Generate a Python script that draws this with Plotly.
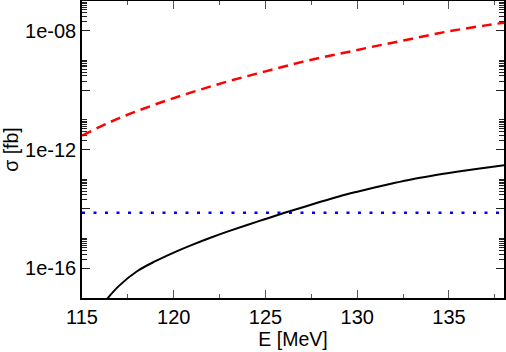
import plotly.graph_objects as go

# energies [MeV] and cross sections [fb]
energy_red = [115, 117, 119, 121, 123, 125, 127, 129, 131, 133, 135, 137, 138]
sigma_red = [2.95e-12, 1.12e-11, 3.31e-11, 8.51e-11, 2.00e-10, 4.27e-10, 8.91e-10,
             1.66e-9, 3.02e-9, 5.37e-9, 9.55e-9, 1.51e-8, 1.86e-8]

energy_black = [116, 117, 118, 119, 120, 121, 122, 123, 124, 125, 126, 127,
                128, 129, 130, 131, 132, 133, 134, 135, 136, 137, 138]
sigma_black = [5.01e-18, 2.51e-17, 7.94e-17, 1.74e-16, 3.39e-16, 6.17e-16, 1.07e-15,
               1.78e-15, 2.88e-15, 4.57e-15, 7.24e-15, 1.12e-14, 1.74e-14, 2.63e-14,
               3.80e-14, 5.37e-14, 7.41e-14, 1.00e-13, 1.29e-13, 1.62e-13, 2.00e-13,
               2.45e-13, 2.95e-13]

energy_blue = [115, 138]
sigma_blue = [7.4e-15, 7.4e-15]

y_tickvals = [1e-16, 1e-14, 1e-12, 1e-10, 1e-08]
y_ticktext = ['1e-16', '', '1e-12', '', '1e-08']
# minor ticks: 2..10 x 10^k in the lower decade of each two-decade step
y_minor = [m * 10.0 ** k for k in (-16, -14, -12, -10, -8) for m in range(2, 11)]

FONT = 'Liberation Sans, Arial, sans-serif'

fig = go.Figure()
fig.add_trace(go.Scatter(x=energy_red, y=sigma_red, mode='lines', line_shape='spline',
                         line=dict(color='#ff0000', width=2.5, dash='10px,6px')))
fig.add_trace(go.Scatter(x=energy_black, y=sigma_black, mode='lines', line_shape='spline',
                         line=dict(color='#000000', width=2)))
fig.add_trace(go.Scatter(x=energy_blue, y=sigma_blue, mode='lines',
                         line=dict(color='#0000ff', width=2.5, dash='3px,8.5px')))

fig.update_layout(
    width=506, height=352,
    margin=dict(l=82, r=2, t=1, b=54),
    plot_bgcolor='white', paper_bgcolor='white',
    showlegend=False,
    font=dict(family=FONT, size=20, color='black'),
)
fig.update_xaxes(
    range=[115, 138], tick0=115, dtick=5, automargin=False,
    ticks='inside', ticklen=8, tickwidth=1, tickcolor='#555',
    minor=dict(dtick=2.5, tick0=115, ticks='inside', ticklen=4, tickwidth=1,
               tickcolor='#555'),
    showline=True, linecolor='black', linewidth=1.5, mirror='ticks',
    showgrid=False, zeroline=False,
    title=dict(text='E [MeV]', standoff=2, font=dict(size=19.5)),
)
fig.update_yaxes(
    type='log', range=[-17, -7], automargin=False,
    tickmode='array', tickvals=y_tickvals, ticktext=y_ticktext,
    ticks='inside', ticklen=8, tickwidth=1, tickcolor='#222',
    minor=dict(tickmode='array', tickvals=y_minor, ticks='inside', ticklen=5,
               tickwidth=1, tickcolor='#222'),
    showline=True, linecolor='black', linewidth=1.5, mirror='ticks',
    showgrid=False, zeroline=False,
    title=dict(text='σ [fb]', standoff=6, font=dict(size=19.5)),
)

# drop the browser's default 8px body margin so the figure sits at the page corner
fig.write_html("out.html", config={'displayModeBar': False},
               post_script="document.body.style.margin='0';")
